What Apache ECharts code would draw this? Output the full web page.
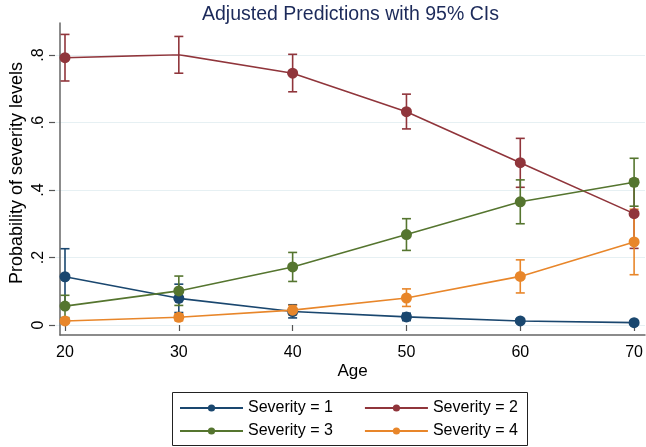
<!DOCTYPE html>
<html>
<head>
<meta charset="utf-8">
<script src="https://cdn.jsdelivr.net/npm/echarts@6/dist/echarts.min.js"></script>
<style>html,body{margin:0;padding:0;background:#fff;}#c{width:646px;height:447px;}</style>
</head>
<body>
<div id="c"></div>
<script>
const ages = [20, 30, 40, 50, 60, 70];
const names = ['Severity = 1', 'Severity = 2', 'Severity = 3', 'Severity = 4'];
const sev1   = [0.143, 0.079, 0.040, 0.024, 0.012, 0.007];
const sev1Lo = [0.060, 0.037, 0.021, 0.013, 0.006, 0.002];
const sev1Hi = [0.226, 0.121, 0.060, 0.035, 0.018, 0.012];
const sev2   = [0.792, 0.801, 0.746, 0.632, 0.481, 0.330];
const sev2Lo = [0.723, 0.746, 0.691, 0.581, 0.408, 0.227];
const sev2Hi = [0.861, 0.855, 0.802, 0.684, 0.553, 0.432];
const sev3   = [0.056, 0.101, 0.172, 0.268, 0.365, 0.423];
const sev3Lo = [0.022, 0.058, 0.129, 0.221, 0.300, 0.352];
const sev3Hi = [0.088, 0.145, 0.215, 0.315, 0.430, 0.494];
const sev4   = [0.012, 0.023, 0.044, 0.080, 0.144, 0.246];
const sev4Lo = [0.005, 0.013, 0.030, 0.055, 0.095, 0.149];
const sev4Hi = [0.019, 0.033, 0.058, 0.107, 0.193, 0.343];
const yTicks = [0, 0.2, 0.4, 0.6, 0.8];
const yTickLabels = ['0', '.2', '.4', '.6', '.8'];

const colors = ['#1a476f', '#90353b', '#55752f', '#e8862a'];
const est = [sev1, sev2, sev3, sev4];
const los = [sev1Lo, sev2Lo, sev3Lo, sev4Lo];
const his = [sev1Hi, sev2Hi, sev3Hi, sev4Hi];
const FONT = 'Liberation Sans';

const series = [];
for (let k = 0; k < 4; k++) {
  series.push({
    name: 'ci' + k,
    type: 'custom',
    xAxisIndex: 0, yAxisIndex: 0,
    silent: true,
    z: 2,
    encode: { x: 0, y: [1, 2] },
    data: ages.map((a, i) => [a, los[k][i], his[k][i]]),
    renderItem: (params, api) => {
      const x = api.value(0);
      const pLo = api.coord([x, api.value(1)]);
      const pHi = api.coord([x, api.value(2)]);
      const w = 4.5;
      const st = { stroke: colors[k], lineWidth: 1.6 };
      return {
        type: 'group',
        children: [
          { type: 'line', shape: { x1: pLo[0], y1: pLo[1], x2: pHi[0], y2: pHi[1] }, style: st },
          { type: 'line', shape: { x1: pHi[0] - w, y1: pHi[1], x2: pHi[0] + w, y2: pHi[1] }, style: st },
          { type: 'line', shape: { x1: pLo[0] - w, y1: pLo[1], x2: pLo[0] + w, y2: pLo[1] }, style: st }
        ]
      };
    }
  });
}
for (let k = 0; k < 4; k++) {
  series.push({
    name: names[k],
    type: 'line',
    xAxisIndex: 0, yAxisIndex: 0,
    z: 3,
    symbol: 'circle',
    symbolSize: 11,
    showAllSymbol: true,
    lineStyle: { color: colors[k], width: 1.6 },
    itemStyle: { color: colors[k] },
    emphasis: { disabled: true },
    data: ages.map((a, i) => [a, est[k][i]])
  });
}

const chart = echarts.init(document.getElementById('c'), null, { renderer: 'canvas' });
chart.setOption({
  animation: false,
  backgroundColor: '#ffffff',
  textStyle: { fontFamily: FONT },
  title: {
    text: 'Adjusted Predictions with 95% CIs',
    left: 197, top: 0,
    textStyle: { fontFamily: FONT, fontSize: 19.5, fontWeight: 'normal', color: '#1c2a5a' }
  },
  grid: [
    { left: 65, right: 10.5, top: 55, bottom: 122 },
    { left: 55, right: 1, top: 23, bottom: 112 },
    { left: 55, right: 1, top: 55, bottom: 122 }
  ],
  xAxis: [
    {
      gridIndex: 0, type: 'value', min: 20, max: 70, interval: 10, offset: 10,
      axisLine: { show: false },
      axisTick: { show: true, length: 6, lineStyle: { color: '#555', width: 1.2 } },
      axisLabel: { fontSize: 16, color: '#000', margin: 10, fontFamily: FONT },
      splitLine: { show: false }
    },
    {
      gridIndex: 1, type: 'value', min: 0, max: 1,
      axisLine: { show: true, lineStyle: { color: '#666', width: 1.5 } },
      axisTick: { show: false }, axisLabel: { show: false }, splitLine: { show: false },
      name: 'Age', nameLocation: 'middle', nameGap: 28,
      nameTextStyle: { fontSize: 17, color: '#000', fontFamily: FONT }
    },
    {
      gridIndex: 2, type: 'value', min: 0, max: 1, show: false
    }
  ],
  yAxis: [
    {
      gridIndex: 0, type: 'value', min: 0, max: 0.8, interval: 0.2, offset: 10,
      axisLine: { show: false },
      axisTick: { show: true, length: 6, lineStyle: { color: '#555', width: 1.2 } },
      axisLabel: {
        fontSize: 16, color: '#000', rotate: 90, margin: 8, fontFamily: FONT,
        formatter: v => { const i = yTicks.findIndex(t => Math.abs(t - v) < 1e-9); return i >= 0 ? yTickLabels[i] : ''; }
      },
      splitLine: { show: false }
    },
    {
      gridIndex: 1, type: 'value', min: 0, max: 1,
      axisLine: { show: true, lineStyle: { color: '#666', width: 1.5 } },
      axisTick: { show: false }, axisLabel: { show: false }, splitLine: { show: false },
      name: 'Probability of severity levels', nameLocation: 'middle', nameGap: 34, nameRotate: 90,
      nameTextStyle: { fontSize: 18, color: '#000', fontFamily: FONT, padding: [0, 0, 0, 12] }
    },
    {
      gridIndex: 2, type: 'value', min: 0, max: 0.8, interval: 0.2,
      axisLine: { show: false }, axisTick: { show: false }, axisLabel: { show: false },
      splitLine: { show: true, lineStyle: { color: '#e6f0f3', width: 1 } }
    }
  ],
  legend: [
    {
      data: [names[0], names[1]], left: 179, top: 400, orient: 'horizontal',
      itemWidth: 63, itemHeight: 9, itemGap: 31, padding: 0, selectedMode: false,
      textStyle: { fontSize: 16, color: '#000', fontFamily: FONT }
    },
    {
      data: [names[2], names[3]], left: 179, top: 423, orient: 'horizontal',
      itemWidth: 63, itemHeight: 9, itemGap: 31, padding: 0, selectedMode: false,
      textStyle: { fontSize: 16, color: '#000', fontFamily: FONT }
    }
  ],
  graphic: [
    { type: 'rect', shape: { x: 172.5, y: 392.5, width: 355, height: 53 }, style: { fill: 'none', stroke: '#222', lineWidth: 1 }, silent: true }
  ],
  series: series
});
</script>
</body>
</html>
